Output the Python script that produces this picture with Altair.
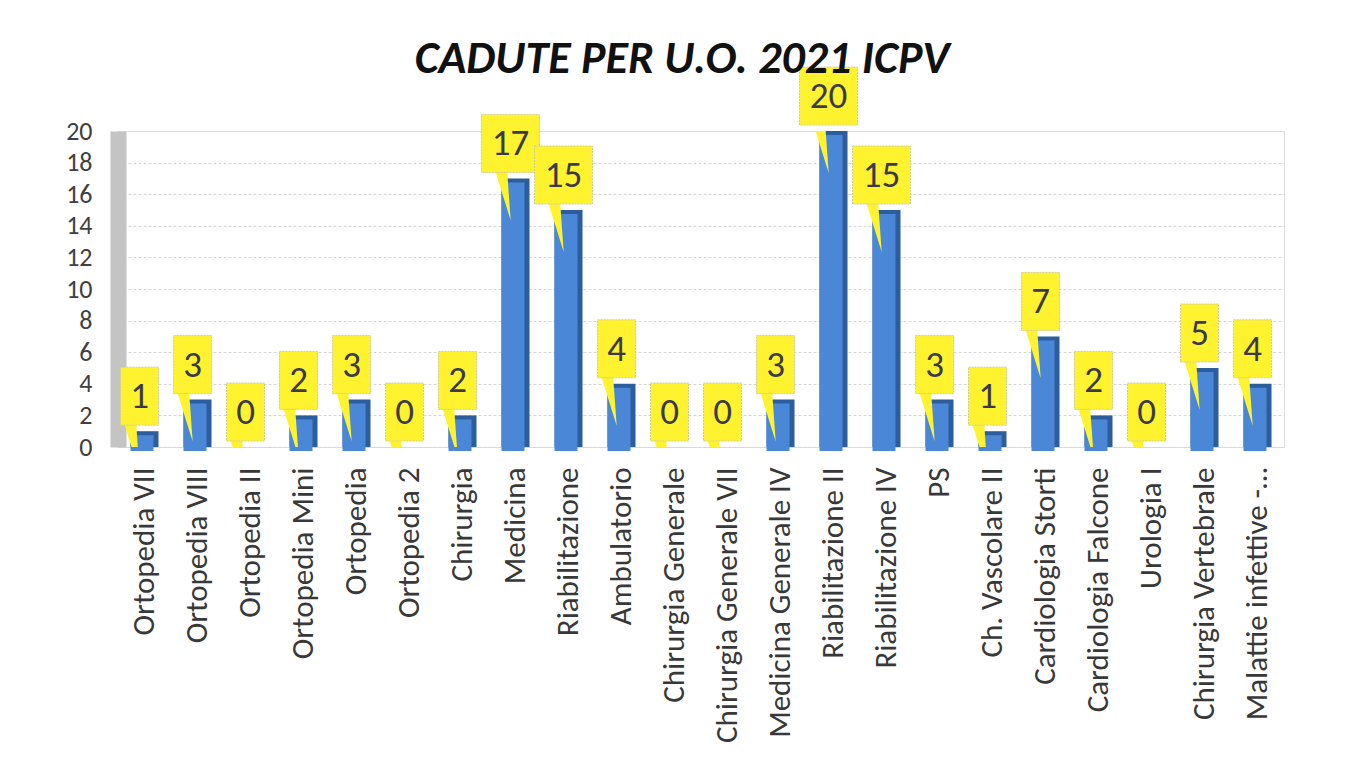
import altair as alt
import pandas as pd

categories = [
    "Ortopedia VII", "Ortopedia VIII", "Ortopedia II", "Ortopedia Mini", "Ortopedia",
    "Ortopedia 2", "Chirurgia", "Medicina", "Riabilitazione", "Ambulatorio",
    "Chirurgia Generale", "Chirurgia Generale VII", "Medicina Generale IV",
    "Riabilitazione II", "Riabilitazione IV", "PS", "Ch. Vascolare II",
    "Cardiologia Storti", "Cardiologia Falcone", "Urologia I",
    "Chirurgia Vertebrale", "Malattie infettive -…",
]
values = [1, 3, 0, 2, 3, 0, 2, 17, 15, 4, 0, 0, 3, 20, 15, 3, 1, 7, 2, 0, 5, 4]
y_ticks = [0, 2, 4, 6, 8, 10, 12, 14, 16, 18, 20]

df = pd.DataFrame({"unit": categories, "n": values})

FONT = "Carlito, Liberation Sans, Arial"
YELLOW = "#fff22e"

x = alt.X(
    "unit:N", sort=categories,
    scale=alt.Scale(paddingInner=0, paddingOuter=0),
    axis=alt.Axis(
        title=None, labelAngle=-90, labelAlign="right", labelBaseline="middle",
        labelFontSize=31, labelFont=FONT, labelColor="#383838",
        labelPadding=20, domain=False, ticks=False, labelLimit=400,
    ),
)
y = alt.Y(
    "n:Q", scale=alt.Scale(domain=[0, 20], nice=False),
    axis=alt.Axis(
        title=None, values=y_ticks, labelFontSize=26, labelFont=FONT,
        labelColor="#404040", ticks=False, labelPadding=26, labelOverlap=False,
        domainColor="#c4c4c4", domainWidth=16,
        gridColor="#d6d6d6", gridDash=[3, 2], gridWidth=1,
    ),
)

base = alt.Chart(df)

side = base.mark_bar(width=28, color="#2c5d9c", y2Offset=4).encode(x=x, y=y)
front = base.mark_bar(width=23, xOffset=-2.5, yOffset=4, y2Offset=4, color="#4a87d6").encode(x=x, y=y)

box = base.transform_calculate(
    bw="datum.n >= 10 ? 58 : 38"
).mark_bar(
    fill=YELLOW, stroke="#cfcc9a", strokeWidth=1, strokeDash=[2, 1],
    xOffset=-5, yOffset=-64, y2Offset=-6,
).encode(
    x=x, y=y, y2=alt.Y2("n"),
    size=alt.Size("bw:Q", scale=None, legend=None),
)

pointer = base.mark_point(
    shape="M -0.85 -1.08 L -0.35 -1.08 L -0.2 1 Z",
    size=2304, filled=True, fill=YELLOW, strokeOpacity=0, opacity=1,
    yOffset=18, clip=True,
).encode(x=x, y=y)

labels = base.mark_text(
    fontSize=37, font=FONT, color="#3a3a4a", xOffset=-5, yOffset=-34,
    baseline="middle", align="center",
).encode(x=x, y=y, text=alt.Text("n:Q"))

chart = alt.layer(side, front, pointer, box, labels).properties(
    width=1166, height=316,
    title=alt.TitleParams(
        "CADUTE PER U.O. 2021 ICPV", fontSize=46, font=FONT, fontStyle="italic",
        fontWeight="bold", color="#111111", anchor="middle", offset=0, dx=-19, dy=16,
        frame="group",
    ),
    autosize=alt.AutoSizeParams(type="none"),
    padding={"left": 110, "top": 123, "right": 60, "bottom": 300},
).configure_view(strokeWidth=0, strokeOpacity=0).configure(background="white")

chart.save("out.html", embed_options={"renderer": "svg", "actions": False})
